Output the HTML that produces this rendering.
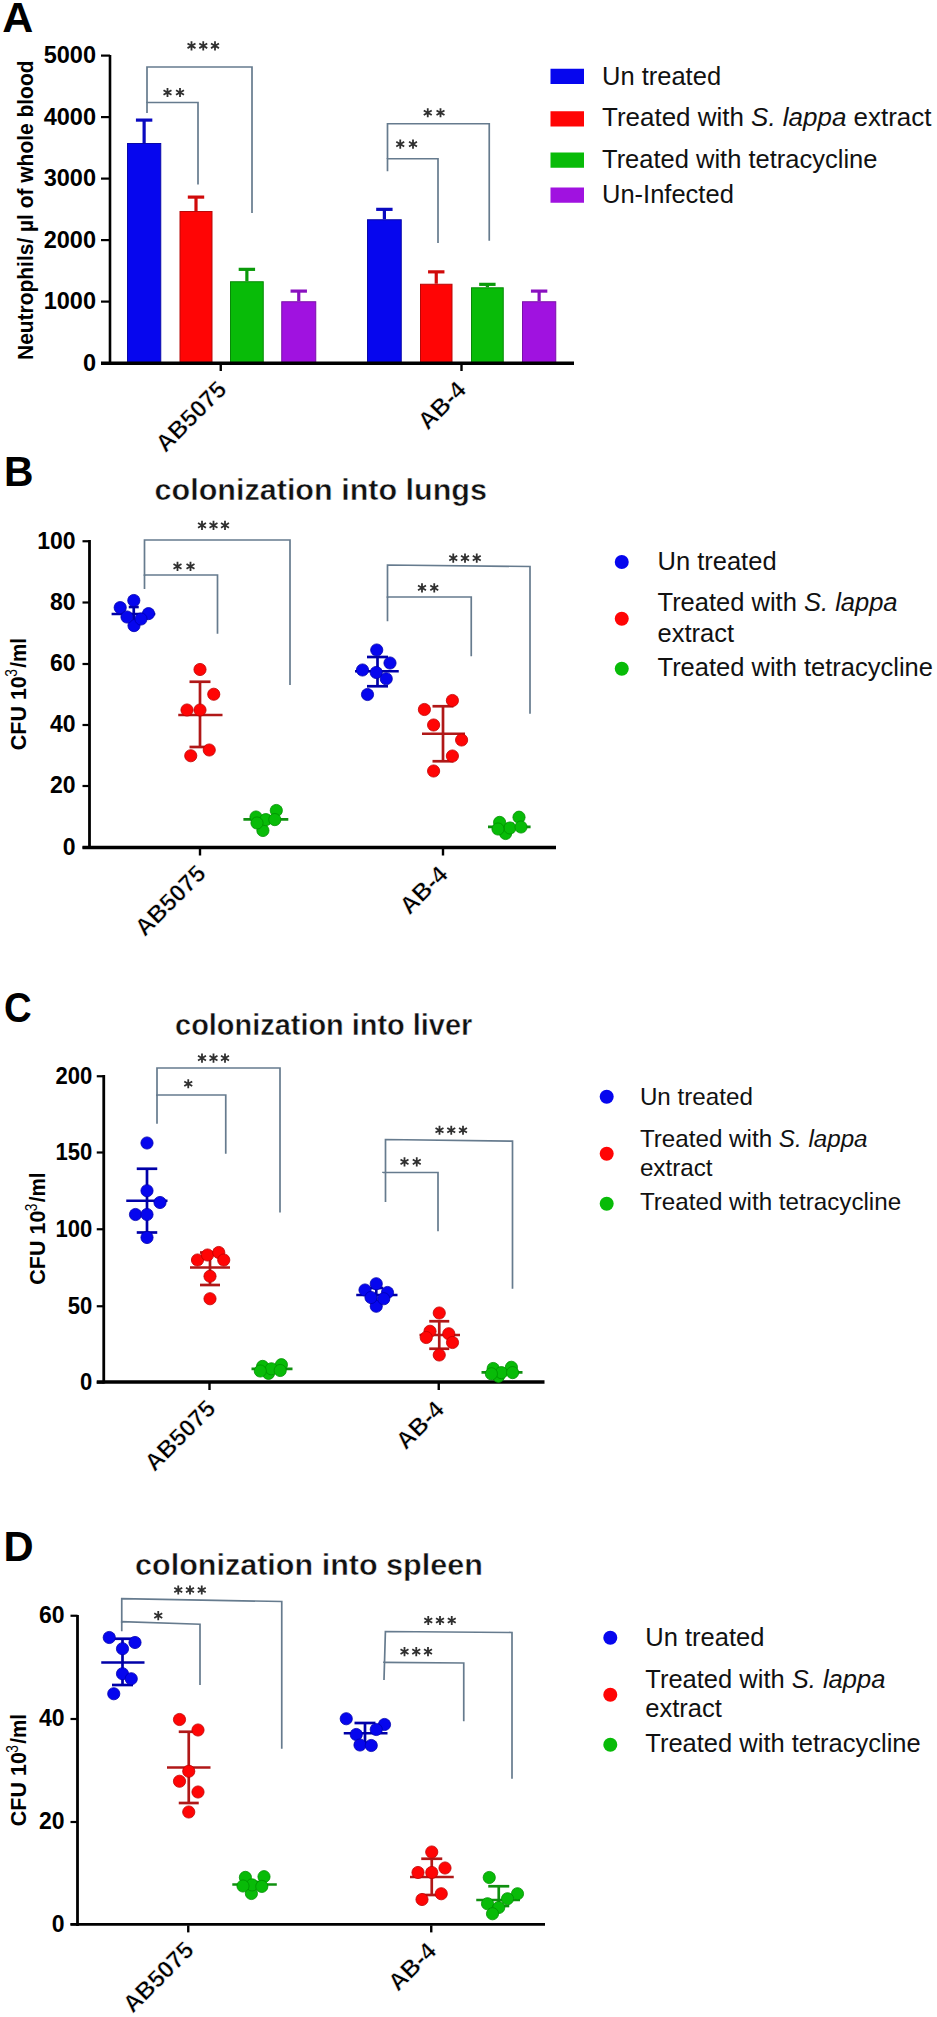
<!DOCTYPE html>
<html><head><meta charset="utf-8"><style>
html,body{margin:0;padding:0;background:#fff;}
svg{display:block;font-family:"Liberation Sans", sans-serif;}
</style></head><body>
<svg width="937" height="2017" viewBox="0 0 937 2017">
<rect width="937" height="2017" fill="#fff"/>
<text transform="translate(2.3,32.3) scale(1.0,1)" font-size="43" font-weight="bold">A</text>
<line x1="110" y1="55" x2="110" y2="364.5" stroke="#000" stroke-width="2.6" stroke-linecap="butt"/>
<line x1="101" y1="55.6" x2="110" y2="55.6" stroke="#000" stroke-width="2.2" stroke-linecap="butt"/>
<text x="96" y="63.0" font-size="23.5" font-weight="bold" text-anchor="end" fill="#000" >5000</text>
<line x1="101" y1="117.1" x2="110" y2="117.1" stroke="#000" stroke-width="2.2" stroke-linecap="butt"/>
<text x="96" y="124.5" font-size="23.5" font-weight="bold" text-anchor="end" fill="#000" >4000</text>
<line x1="101" y1="178.6" x2="110" y2="178.6" stroke="#000" stroke-width="2.2" stroke-linecap="butt"/>
<text x="96" y="186.0" font-size="23.5" font-weight="bold" text-anchor="end" fill="#000" >3000</text>
<line x1="101" y1="240.1" x2="110" y2="240.1" stroke="#000" stroke-width="2.2" stroke-linecap="butt"/>
<text x="96" y="247.5" font-size="23.5" font-weight="bold" text-anchor="end" fill="#000" >2000</text>
<line x1="101" y1="301.6" x2="110" y2="301.6" stroke="#000" stroke-width="2.2" stroke-linecap="butt"/>
<text x="96" y="309.0" font-size="23.5" font-weight="bold" text-anchor="end" fill="#000" >1000</text>
<line x1="101" y1="363.1" x2="110" y2="363.1" stroke="#000" stroke-width="2.2" stroke-linecap="butt"/>
<text x="96" y="370.5" font-size="23.5" font-weight="bold" text-anchor="end" fill="#000" >0</text>
<rect x="127.5" y="143.5" width="33.25" height="219.5" fill="#0606ee" stroke="#0808a8" stroke-width="1"/>
<line x1="144.125" y1="120.1" x2="144.125" y2="143" stroke="#0a0ac0" stroke-width="3.2" stroke-linecap="butt"/>
<line x1="135.925" y1="120.1" x2="152.325" y2="120.1" stroke="#0a0ac0" stroke-width="3.2" stroke-linecap="butt"/>
<rect x="180.0" y="211.5" width="32.0" height="151.5" fill="#ff0505" stroke="#b80808" stroke-width="1"/>
<line x1="196.0" y1="197.1" x2="196.0" y2="211" stroke="#d00a0a" stroke-width="3.2" stroke-linecap="butt"/>
<line x1="187.8" y1="197.1" x2="204.2" y2="197.1" stroke="#d00a0a" stroke-width="3.2" stroke-linecap="butt"/>
<rect x="230.5" y="281.75" width="32.75" height="81.25" fill="#08bb08" stroke="#088808" stroke-width="1"/>
<line x1="246.875" y1="269.35" x2="246.875" y2="281.25" stroke="#0a9a0a" stroke-width="3.2" stroke-linecap="butt"/>
<line x1="238.675" y1="269.35" x2="255.075" y2="269.35" stroke="#0a9a0a" stroke-width="3.2" stroke-linecap="butt"/>
<rect x="281.75" y="301.75" width="34.0" height="61.25" fill="#a012e0" stroke="#7a10a8" stroke-width="1"/>
<line x1="298.75" y1="291.1" x2="298.75" y2="301.25" stroke="#8a10c0" stroke-width="3.2" stroke-linecap="butt"/>
<line x1="290.55" y1="291.1" x2="306.95" y2="291.1" stroke="#8a10c0" stroke-width="3.2" stroke-linecap="butt"/>
<rect x="367.5" y="219.75" width="33.75" height="143.25" fill="#0606ee" stroke="#0808a8" stroke-width="1"/>
<line x1="384.375" y1="209.35" x2="384.375" y2="219.25" stroke="#0a0ac0" stroke-width="3.2" stroke-linecap="butt"/>
<line x1="376.175" y1="209.35" x2="392.575" y2="209.35" stroke="#0a0ac0" stroke-width="3.2" stroke-linecap="butt"/>
<rect x="420.5" y="284.25" width="31.5" height="78.75" fill="#ff0505" stroke="#b80808" stroke-width="1"/>
<line x1="436.25" y1="271.85" x2="436.25" y2="283.75" stroke="#d00a0a" stroke-width="3.2" stroke-linecap="butt"/>
<line x1="428.05" y1="271.85" x2="444.45" y2="271.85" stroke="#d00a0a" stroke-width="3.2" stroke-linecap="butt"/>
<rect x="471.5" y="287.8" width="31.75" height="75.19999999999999" fill="#08bb08" stroke="#088808" stroke-width="1"/>
<line x1="487.375" y1="284.35" x2="487.375" y2="287.3" stroke="#0a9a0a" stroke-width="3.2" stroke-linecap="butt"/>
<line x1="479.175" y1="284.35" x2="495.575" y2="284.35" stroke="#0a9a0a" stroke-width="3.2" stroke-linecap="butt"/>
<rect x="522.5" y="301.75" width="33.25" height="61.25" fill="#a012e0" stroke="#7a10a8" stroke-width="1"/>
<line x1="539.125" y1="291.1" x2="539.125" y2="301.25" stroke="#8a10c0" stroke-width="3.2" stroke-linecap="butt"/>
<line x1="530.925" y1="291.1" x2="547.325" y2="291.1" stroke="#8a10c0" stroke-width="3.2" stroke-linecap="butt"/>
<line x1="101" y1="363.2" x2="574" y2="363.2" stroke="#000" stroke-width="3.6" stroke-linecap="butt"/>
<line x1="220.75" y1="365" x2="220.75" y2="371" stroke="#000" stroke-width="2.4" stroke-linecap="butt"/>
<line x1="461.5" y1="365" x2="461.5" y2="371" stroke="#000" stroke-width="2.4" stroke-linecap="butt"/>
<path d="M147 113L147 67L252 67L252 213" fill="none" stroke="#667b8e" stroke-width="1.7"/>
<path d="M147 103L147 102.5L198 102.5L198 184.5" fill="none" stroke="#667b8e" stroke-width="1.7"/>
<path d="M191.50 41.25L191.50 50.45M187.52 43.55L195.48 48.15M195.48 43.55L187.52 48.15" stroke="#303030" stroke-width="1.8"/>
<path d="M203.25 41.25L203.25 50.45M199.27 43.55L207.23 48.15M207.23 43.55L199.27 48.15" stroke="#303030" stroke-width="1.8"/>
<path d="M215.00 41.25L215.00 50.45M211.02 43.55L218.98 48.15M218.98 43.55L211.02 48.15" stroke="#303030" stroke-width="1.8"/>
<path d="M167.50 87.90L167.50 97.10M163.52 90.20L171.48 94.80M171.48 90.20L163.52 94.80" stroke="#303030" stroke-width="1.8"/>
<path d="M180.00 87.90L180.00 97.10M176.02 90.20L183.98 94.80M183.98 90.20L176.02 94.80" stroke="#303030" stroke-width="1.8"/>
<path d="M387.5 171.25L387.5 123.75L489.25 123.75L489.25 240.75" fill="none" stroke="#667b8e" stroke-width="1.7"/>
<path d="M387.5 159L387.5 158.75L438 158.75L438 243" fill="none" stroke="#667b8e" stroke-width="1.7"/>
<path d="M427.75 108.15L427.75 117.35M423.77 110.45L431.73 115.05M431.73 110.45L423.77 115.05" stroke="#303030" stroke-width="1.8"/>
<path d="M440.50 108.15L440.50 117.35M436.52 110.45L444.48 115.05M444.48 110.45L436.52 115.05" stroke="#303030" stroke-width="1.8"/>
<path d="M400.25 139.53L400.25 148.72M396.27 141.82L404.23 146.43M404.23 141.82L396.27 146.43" stroke="#303030" stroke-width="1.8"/>
<path d="M413.00 139.53L413.00 148.72M409.02 141.82L416.98 146.43M416.98 141.82L409.02 146.43" stroke="#303030" stroke-width="1.8"/>
<text transform="translate(33,360) rotate(-90)" x="0" y="0" font-size="22.5" font-weight="bold" textLength="299.5" lengthAdjust="spacingAndGlyphs">Neutrophils/ µl of whole blood</text>
<text transform="translate(227.9,390.9) rotate(-45)" x="0" y="0" font-size="24.1" font-weight="bold" text-anchor="end" stroke="#fff" stroke-width="0.5" paint-order="fill">AB5075</text>
<text transform="translate(467.6,391.3) rotate(-45)" x="0" y="0" font-size="24.1" font-weight="bold" text-anchor="end" stroke="#fff" stroke-width="0.5" paint-order="fill">AB-4</text>
<rect x="550.5" y="68.75" width="33.5" height="15.25" fill="#0606ee"/>
<rect x="550.5" y="111.25" width="33.5" height="15.25" fill="#ff0505"/>
<rect x="550.5" y="152.5" width="33.5" height="15.25" fill="#08bb08"/>
<rect x="550.5" y="187.5" width="33.5" height="15.25" fill="#a012e0"/>
<text x="602" y="85" font-size="25.5" fill="#111">Un treated</text>
<text x="602" y="126" font-size="25.5" fill="#111" textLength="329.5" lengthAdjust="spacingAndGlyphs">Treated with <tspan font-style="italic">S. lappa</tspan> extract</text>
<text x="602" y="167.5" font-size="25.5" fill="#111">Treated with tetracycline</text>
<text x="602" y="202.5" font-size="25.5" fill="#111">Un-Infected</text>
<text transform="translate(4.1,486.3) scale(0.95,1)" font-size="43" font-weight="bold">B</text>
<text x="154.6" y="499.5" font-size="29.3" font-weight="bold" fill="#111" stroke="#fff" stroke-width="0.45" paint-order="fill" textLength="332.4" lengthAdjust="spacingAndGlyphs">colonization into lungs</text>
<line x1="89.5" y1="540" x2="89.5" y2="849.0" stroke="#000" stroke-width="2.8" stroke-linecap="butt"/>
<line x1="82.5" y1="541.25" x2="89.5" y2="541.25" stroke="#000" stroke-width="2.2" stroke-linecap="butt"/>
<text transform="translate(75.5,548.65) scale(1.0,1)" font-size="23" font-weight="bold" text-anchor="end">100</text>
<line x1="82.5" y1="602.5" x2="89.5" y2="602.5" stroke="#000" stroke-width="2.2" stroke-linecap="butt"/>
<text transform="translate(75.5,609.9) scale(1.0,1)" font-size="23" font-weight="bold" text-anchor="end">80</text>
<line x1="82.5" y1="664" x2="89.5" y2="664" stroke="#000" stroke-width="2.2" stroke-linecap="butt"/>
<text transform="translate(75.5,671.4) scale(1.0,1)" font-size="23" font-weight="bold" text-anchor="end">60</text>
<line x1="82.5" y1="725" x2="89.5" y2="725" stroke="#000" stroke-width="2.2" stroke-linecap="butt"/>
<text transform="translate(75.5,732.4) scale(1.0,1)" font-size="23" font-weight="bold" text-anchor="end">40</text>
<line x1="82.5" y1="786" x2="89.5" y2="786" stroke="#000" stroke-width="2.2" stroke-linecap="butt"/>
<text transform="translate(75.5,793.4) scale(1.0,1)" font-size="23" font-weight="bold" text-anchor="end">20</text>
<line x1="82.5" y1="847.5" x2="89.5" y2="847.5" stroke="#000" stroke-width="2.2" stroke-linecap="butt"/>
<text transform="translate(75.5,854.9) scale(1.0,1)" font-size="23" font-weight="bold" text-anchor="end">0</text>
<line x1="82.5" y1="847.5" x2="556" y2="847.5" stroke="#000" stroke-width="3.4" stroke-linecap="butt"/>
<line x1="200" y1="848.5" x2="200" y2="855.5" stroke="#000" stroke-width="2.4" stroke-linecap="butt"/>
<line x1="443" y1="848.5" x2="443" y2="855.5" stroke="#000" stroke-width="2.4" stroke-linecap="butt"/>
<path d="M144.5 589L144.5 540L290 540L290 685" fill="none" stroke="#667b8e" stroke-width="1.7"/>
<path d="M144.5 576L144.5 575L217.5 575L217.5 633.75" fill="none" stroke="#667b8e" stroke-width="1.7"/>
<path d="M387.5 621.25L387.5 565L530 566.5L530 713.75" fill="none" stroke="#667b8e" stroke-width="1.7"/>
<path d="M387.5 598L387.5 597L471.25 597L471.25 656.25" fill="none" stroke="#667b8e" stroke-width="1.7"/>
<path d="M202.00 520.77L202.00 529.98M198.02 523.08L205.98 527.67M205.98 523.08L198.02 527.67" stroke="#303030" stroke-width="1.8"/>
<path d="M213.50 520.77L213.50 529.98M209.52 523.08L217.48 527.67M217.48 523.08L209.52 527.67" stroke="#303030" stroke-width="1.8"/>
<path d="M225.00 520.77L225.00 529.98M221.02 523.08L228.98 527.67M228.98 523.08L221.02 527.67" stroke="#303030" stroke-width="1.8"/>
<path d="M177.50 561.77L177.50 570.98M173.52 564.08L181.48 568.67M181.48 564.08L173.52 568.67" stroke="#303030" stroke-width="1.8"/>
<path d="M190.50 561.77L190.50 570.98M186.52 564.08L194.48 568.67M194.48 564.08L186.52 568.67" stroke="#303030" stroke-width="1.8"/>
<path d="M453.25 553.52L453.25 562.73M449.27 555.83L457.23 560.42M457.23 555.83L449.27 560.42" stroke="#303030" stroke-width="1.8"/>
<path d="M465.00 553.52L465.00 562.73M461.02 555.83L468.98 560.42M468.98 555.83L461.02 560.42" stroke="#303030" stroke-width="1.8"/>
<path d="M476.75 553.52L476.75 562.73M472.77 555.83L480.73 560.42M480.73 555.83L472.77 560.42" stroke="#303030" stroke-width="1.8"/>
<path d="M422.00 583.27L422.00 592.48M418.02 585.58L425.98 590.17M425.98 585.58L418.02 590.17" stroke="#303030" stroke-width="1.8"/>
<path d="M434.25 583.27L434.25 592.48M430.27 585.58L438.23 590.17M438.23 585.58L430.27 590.17" stroke="#303030" stroke-width="1.8"/>
<g transform="translate(25.6,749.4) rotate(-90)"><text x="-0.88" y="0" font-size="21.5" font-weight="bold">CFU 10</text><text x="72.6" y="-8.5" font-size="16.5" textLength="7.6" lengthAdjust="spacingAndGlyphs">3</text><text x="81.6" y="0" font-size="21.5" font-weight="bold" textLength="29.8" lengthAdjust="spacingAndGlyphs">/ml</text></g>
<text transform="translate(207.2,875.1) rotate(-45)" x="0" y="0" font-size="24.1" font-weight="bold" text-anchor="end" stroke="#fff" stroke-width="0.5" paint-order="fill">AB5075</text>
<text transform="translate(449.2,875.9) rotate(-45)" x="0" y="0" font-size="24.1" font-weight="bold" text-anchor="end" stroke="#fff" stroke-width="0.5" paint-order="fill">AB-4</text>
<line x1="111.6" y1="614" x2="155.3" y2="614" stroke="#0000a8" stroke-width="2.7" stroke-linecap="butt"/>
<line x1="133.75" y1="607" x2="133.75" y2="622" stroke="#0000a8" stroke-width="2.7" stroke-linecap="butt"/>
<line x1="128.75" y1="607" x2="138.75" y2="607" stroke="#0000a8" stroke-width="2.7" stroke-linecap="butt"/>
<line x1="128.75" y1="622" x2="138.75" y2="622" stroke="#0000a8" stroke-width="2.7" stroke-linecap="butt"/>
<circle cx="133.8" cy="600.5" r="6.1" fill="#0606ee" stroke="#0000b0" stroke-width="0.8"/>
<circle cx="120.2" cy="607.6" r="6.1" fill="#0606ee" stroke="#0000b0" stroke-width="0.8"/>
<circle cx="148.5" cy="613.6" r="6.1" fill="#0606ee" stroke="#0000b0" stroke-width="0.8"/>
<circle cx="134" cy="625.6" r="6.1" fill="#0606ee" stroke="#0000b0" stroke-width="0.8"/>
<circle cx="127" cy="617" r="6.1" fill="#0606ee" stroke="#0000b0" stroke-width="0.8"/>
<circle cx="141" cy="619" r="6.1" fill="#0606ee" stroke="#0000b0" stroke-width="0.8"/>
<line x1="178.25" y1="715" x2="222.5" y2="715" stroke="#b01818" stroke-width="2.7" stroke-linecap="butt"/>
<line x1="200" y1="681.75" x2="200" y2="747" stroke="#b01818" stroke-width="2.7" stroke-linecap="butt"/>
<line x1="189.5" y1="681.75" x2="210.5" y2="681.75" stroke="#b01818" stroke-width="2.7" stroke-linecap="butt"/>
<line x1="189.5" y1="747" x2="210.5" y2="747" stroke="#b01818" stroke-width="2.7" stroke-linecap="butt"/>
<circle cx="200" cy="669.5" r="6.1" fill="#ff0505" stroke="#c00000" stroke-width="0.8"/>
<circle cx="213.75" cy="694.25" r="6.1" fill="#ff0505" stroke="#c00000" stroke-width="0.8"/>
<circle cx="187" cy="710" r="6.1" fill="#ff0505" stroke="#c00000" stroke-width="0.8"/>
<circle cx="200" cy="710" r="6.1" fill="#ff0505" stroke="#c00000" stroke-width="0.8"/>
<circle cx="209.25" cy="750" r="6.1" fill="#ff0505" stroke="#c00000" stroke-width="0.8"/>
<circle cx="190.75" cy="755.75" r="6.1" fill="#ff0505" stroke="#c00000" stroke-width="0.8"/>
<line x1="243.4" y1="819.4" x2="288.3" y2="819.4" stroke="#109010" stroke-width="2.7" stroke-linecap="butt"/>
<line x1="266.25" y1="816" x2="266.25" y2="823" stroke="#109010" stroke-width="2.7" stroke-linecap="butt"/>
<line x1="262.25" y1="816" x2="270.25" y2="816" stroke="#109010" stroke-width="2.7" stroke-linecap="butt"/>
<line x1="262.25" y1="823" x2="270.25" y2="823" stroke="#109010" stroke-width="2.7" stroke-linecap="butt"/>
<circle cx="256" cy="817" r="6.1" fill="#08bb08" stroke="#009000" stroke-width="0.8"/>
<circle cx="276.3" cy="810.5" r="6.1" fill="#08bb08" stroke="#009000" stroke-width="0.8"/>
<circle cx="262.9" cy="830.5" r="6.1" fill="#08bb08" stroke="#009000" stroke-width="0.8"/>
<circle cx="265.8" cy="819.6" r="6.1" fill="#08bb08" stroke="#009000" stroke-width="0.8"/>
<circle cx="274.8" cy="819.6" r="6.1" fill="#08bb08" stroke="#009000" stroke-width="0.8"/>
<circle cx="257" cy="823" r="6.1" fill="#08bb08" stroke="#009000" stroke-width="0.8"/>
<line x1="355" y1="671.25" x2="398.75" y2="671.25" stroke="#0000a8" stroke-width="2.7" stroke-linecap="butt"/>
<line x1="377.5" y1="657" x2="377.5" y2="686.25" stroke="#0000a8" stroke-width="2.7" stroke-linecap="butt"/>
<line x1="367.0" y1="657" x2="388.0" y2="657" stroke="#0000a8" stroke-width="2.7" stroke-linecap="butt"/>
<line x1="367.0" y1="686.25" x2="388.0" y2="686.25" stroke="#0000a8" stroke-width="2.7" stroke-linecap="butt"/>
<circle cx="376.75" cy="650" r="6.1" fill="#0606ee" stroke="#0000b0" stroke-width="0.8"/>
<circle cx="390" cy="663" r="6.1" fill="#0606ee" stroke="#0000b0" stroke-width="0.8"/>
<circle cx="362.5" cy="670" r="6.1" fill="#0606ee" stroke="#0000b0" stroke-width="0.8"/>
<circle cx="376.25" cy="672.5" r="6.1" fill="#0606ee" stroke="#0000b0" stroke-width="0.8"/>
<circle cx="386.25" cy="678.75" r="6.1" fill="#0606ee" stroke="#0000b0" stroke-width="0.8"/>
<circle cx="367.5" cy="694.5" r="6.1" fill="#0606ee" stroke="#0000b0" stroke-width="0.8"/>
<line x1="422" y1="733.75" x2="465" y2="733.75" stroke="#b01818" stroke-width="2.7" stroke-linecap="butt"/>
<line x1="443" y1="706.25" x2="443" y2="761.25" stroke="#b01818" stroke-width="2.7" stroke-linecap="butt"/>
<line x1="432.5" y1="706.25" x2="453.5" y2="706.25" stroke="#b01818" stroke-width="2.7" stroke-linecap="butt"/>
<line x1="432.5" y1="761.25" x2="453.5" y2="761.25" stroke="#b01818" stroke-width="2.7" stroke-linecap="butt"/>
<circle cx="452.4" cy="700.5" r="6.1" fill="#ff0505" stroke="#c00000" stroke-width="0.8"/>
<circle cx="424.4" cy="709.5" r="6.1" fill="#ff0505" stroke="#c00000" stroke-width="0.8"/>
<circle cx="433.6" cy="725" r="6.1" fill="#ff0505" stroke="#c00000" stroke-width="0.8"/>
<circle cx="461.6" cy="740" r="6.1" fill="#ff0505" stroke="#c00000" stroke-width="0.8"/>
<circle cx="452.4" cy="756" r="6.1" fill="#ff0505" stroke="#c00000" stroke-width="0.8"/>
<circle cx="433.6" cy="771" r="6.1" fill="#ff0505" stroke="#c00000" stroke-width="0.8"/>
<line x1="488" y1="826.9" x2="530.6" y2="826.9" stroke="#109010" stroke-width="2.7" stroke-linecap="butt"/>
<line x1="510" y1="824" x2="510" y2="830" stroke="#109010" stroke-width="2.7" stroke-linecap="butt"/>
<line x1="506.0" y1="824" x2="514.0" y2="824" stroke="#109010" stroke-width="2.7" stroke-linecap="butt"/>
<line x1="506.0" y1="830" x2="514.0" y2="830" stroke="#109010" stroke-width="2.7" stroke-linecap="butt"/>
<circle cx="499.6" cy="822.4" r="6.1" fill="#08bb08" stroke="#009000" stroke-width="0.8"/>
<circle cx="519" cy="817.2" r="6.1" fill="#08bb08" stroke="#009000" stroke-width="0.8"/>
<circle cx="505.6" cy="833.5" r="6.1" fill="#08bb08" stroke="#009000" stroke-width="0.8"/>
<circle cx="510" cy="828" r="6.1" fill="#08bb08" stroke="#009000" stroke-width="0.8"/>
<circle cx="521" cy="827" r="6.1" fill="#08bb08" stroke="#009000" stroke-width="0.8"/>
<circle cx="498" cy="829" r="6.1" fill="#08bb08" stroke="#009000" stroke-width="0.8"/>
<circle cx="621.75" cy="562" r="7" fill="#0606ee"/>
<circle cx="621.75" cy="618.75" r="7" fill="#ff0505"/>
<circle cx="621.75" cy="668.75" r="7" fill="#08bb08"/>
<text x="657.5" y="570" font-size="25.5" fill="#111">Un treated</text>
<text x="657.5" y="610.75" font-size="25.5" fill="#111">Treated with <tspan font-style="italic">S. lappa</tspan></text>
<text x="657.5" y="642" font-size="25.5" fill="#111">extract</text>
<text x="657.5" y="676.25" font-size="25.5" fill="#111">Treated with tetracycline</text>
<text transform="translate(4.0,1022.4) scale(0.89,1)" font-size="43" font-weight="bold">C</text>
<text x="175.1" y="1034.5" font-size="29.5" font-weight="bold" fill="#111" stroke="#fff" stroke-width="0.45" paint-order="fill" textLength="297.2" lengthAdjust="spacingAndGlyphs">colonization into liver</text>
<line x1="103.75" y1="1075" x2="103.75" y2="1383.5" stroke="#000" stroke-width="2.8" stroke-linecap="butt"/>
<line x1="96.75" y1="1076.25" x2="103.75" y2="1076.25" stroke="#000" stroke-width="2.2" stroke-linecap="butt"/>
<text transform="translate(92.2,1083.85) scale(0.92,1)" font-size="24" font-weight="bold" text-anchor="end">200</text>
<line x1="96.75" y1="1152.5" x2="103.75" y2="1152.5" stroke="#000" stroke-width="2.2" stroke-linecap="butt"/>
<text transform="translate(92.2,1160.1) scale(0.92,1)" font-size="24" font-weight="bold" text-anchor="end">150</text>
<line x1="96.75" y1="1229.25" x2="103.75" y2="1229.25" stroke="#000" stroke-width="2.2" stroke-linecap="butt"/>
<text transform="translate(92.2,1236.85) scale(0.92,1)" font-size="24" font-weight="bold" text-anchor="end">100</text>
<line x1="96.75" y1="1306.25" x2="103.75" y2="1306.25" stroke="#000" stroke-width="2.2" stroke-linecap="butt"/>
<text transform="translate(92.2,1313.85) scale(0.92,1)" font-size="24" font-weight="bold" text-anchor="end">50</text>
<line x1="96.75" y1="1382.5" x2="103.75" y2="1382.5" stroke="#000" stroke-width="2.2" stroke-linecap="butt"/>
<text transform="translate(92.2,1390.1) scale(0.92,1)" font-size="24" font-weight="bold" text-anchor="end">0</text>
<line x1="96.75" y1="1382" x2="544.5" y2="1382" stroke="#000" stroke-width="3.4" stroke-linecap="butt"/>
<line x1="209.5" y1="1383" x2="209.5" y2="1390" stroke="#000" stroke-width="2.4" stroke-linecap="butt"/>
<line x1="438.75" y1="1383" x2="438.75" y2="1390" stroke="#000" stroke-width="2.4" stroke-linecap="butt"/>
<path d="M157 1123.75L157 1068L280 1068L280 1212.5" fill="none" stroke="#667b8e" stroke-width="1.7"/>
<path d="M157 1096L157 1095L225.75 1095L225.75 1153.75" fill="none" stroke="#667b8e" stroke-width="1.7"/>
<path d="M385.5 1202L385.5 1139.5L512.5 1141.2L512.5 1288.75" fill="none" stroke="#667b8e" stroke-width="1.7"/>
<path d="M383 1173L383 1172.5L438 1172.5L438 1231.25" fill="none" stroke="#667b8e" stroke-width="1.7"/>
<path d="M202.00 1053.53L202.00 1062.72M198.02 1055.83L205.98 1060.42M205.98 1055.83L198.02 1060.42" stroke="#303030" stroke-width="1.8"/>
<path d="M213.50 1053.53L213.50 1062.72M209.52 1055.83L217.48 1060.42M217.48 1055.83L209.52 1060.42" stroke="#303030" stroke-width="1.8"/>
<path d="M225.00 1053.53L225.00 1062.72M221.02 1055.83L228.98 1060.42M228.98 1055.83L221.02 1060.42" stroke="#303030" stroke-width="1.8"/>
<path d="M188.25 1079.15L188.25 1088.35M184.27 1081.45L192.23 1086.05M192.23 1081.45L184.27 1086.05" stroke="#303030" stroke-width="1.8"/>
<path d="M439.50 1125.65L439.50 1134.85M435.52 1127.95L443.48 1132.55M443.48 1127.95L435.52 1132.55" stroke="#303030" stroke-width="1.8"/>
<path d="M451.25 1125.65L451.25 1134.85M447.27 1127.95L455.23 1132.55M455.23 1127.95L447.27 1132.55" stroke="#303030" stroke-width="1.8"/>
<path d="M463.00 1125.65L463.00 1134.85M459.02 1127.95L466.98 1132.55M466.98 1127.95L459.02 1132.55" stroke="#303030" stroke-width="1.8"/>
<path d="M404.50 1157.28L404.50 1166.47M400.52 1159.58L408.48 1164.17M408.48 1159.58L400.52 1164.17" stroke="#303030" stroke-width="1.8"/>
<path d="M416.75 1157.28L416.75 1166.47M412.77 1159.58L420.73 1164.17M420.73 1159.58L412.77 1164.17" stroke="#303030" stroke-width="1.8"/>
<g transform="translate(45.2,1283.8) rotate(-90)"><text x="-0.88" y="0" font-size="21.5" font-weight="bold">CFU 10</text><text x="72.6" y="-8.5" font-size="16.5" textLength="7.6" lengthAdjust="spacingAndGlyphs">3</text><text x="81.6" y="0" font-size="21.5" font-weight="bold" textLength="29.8" lengthAdjust="spacingAndGlyphs">/ml</text></g>
<text transform="translate(217,1410) rotate(-45)" x="0" y="0" font-size="24.1" font-weight="bold" text-anchor="end" stroke="#fff" stroke-width="0.5" paint-order="fill">AB5075</text>
<text transform="translate(445.6,1410.9) rotate(-45)" x="0" y="0" font-size="24.1" font-weight="bold" text-anchor="end" stroke="#fff" stroke-width="0.5" paint-order="fill">AB-4</text>
<line x1="126.25" y1="1200.75" x2="167.5" y2="1200.75" stroke="#0000a8" stroke-width="2.7" stroke-linecap="butt"/>
<line x1="147" y1="1168.75" x2="147" y2="1232.5" stroke="#0000a8" stroke-width="2.7" stroke-linecap="butt"/>
<line x1="136.75" y1="1168.75" x2="157.25" y2="1168.75" stroke="#0000a8" stroke-width="2.7" stroke-linecap="butt"/>
<line x1="136.75" y1="1232.5" x2="157.25" y2="1232.5" stroke="#0000a8" stroke-width="2.7" stroke-linecap="butt"/>
<circle cx="147" cy="1143" r="6.1" fill="#0606ee" stroke="#0000b0" stroke-width="0.8"/>
<circle cx="147" cy="1190.75" r="6.1" fill="#0606ee" stroke="#0000b0" stroke-width="0.8"/>
<circle cx="160" cy="1202.5" r="6.1" fill="#0606ee" stroke="#0000b0" stroke-width="0.8"/>
<circle cx="135.5" cy="1214.5" r="6.1" fill="#0606ee" stroke="#0000b0" stroke-width="0.8"/>
<circle cx="147" cy="1214.5" r="6.1" fill="#0606ee" stroke="#0000b0" stroke-width="0.8"/>
<circle cx="147" cy="1237.5" r="6.1" fill="#0606ee" stroke="#0000b0" stroke-width="0.8"/>
<line x1="190" y1="1267.5" x2="230" y2="1267.5" stroke="#b01818" stroke-width="2.7" stroke-linecap="butt"/>
<line x1="210" y1="1252.5" x2="210" y2="1285" stroke="#b01818" stroke-width="2.7" stroke-linecap="butt"/>
<line x1="200.0" y1="1252.5" x2="220.0" y2="1252.5" stroke="#b01818" stroke-width="2.7" stroke-linecap="butt"/>
<line x1="200.0" y1="1285" x2="220.0" y2="1285" stroke="#b01818" stroke-width="2.7" stroke-linecap="butt"/>
<circle cx="197.5" cy="1260" r="6.1" fill="#ff0505" stroke="#c00000" stroke-width="0.8"/>
<circle cx="207.5" cy="1255" r="6.1" fill="#ff0505" stroke="#c00000" stroke-width="0.8"/>
<circle cx="218.75" cy="1252.5" r="6.1" fill="#ff0505" stroke="#c00000" stroke-width="0.8"/>
<circle cx="223.75" cy="1260" r="6.1" fill="#ff0505" stroke="#c00000" stroke-width="0.8"/>
<circle cx="210" cy="1276.25" r="6.1" fill="#ff0505" stroke="#c00000" stroke-width="0.8"/>
<circle cx="210" cy="1298.75" r="6.1" fill="#ff0505" stroke="#c00000" stroke-width="0.8"/>
<line x1="251.5" y1="1368.8" x2="292.5" y2="1368.8" stroke="#109010" stroke-width="2.7" stroke-linecap="butt"/>
<line x1="271.25" y1="1366" x2="271.25" y2="1372" stroke="#109010" stroke-width="2.7" stroke-linecap="butt"/>
<line x1="267.25" y1="1366" x2="275.25" y2="1366" stroke="#109010" stroke-width="2.7" stroke-linecap="butt"/>
<line x1="267.25" y1="1372" x2="275.25" y2="1372" stroke="#109010" stroke-width="2.7" stroke-linecap="butt"/>
<circle cx="262.6" cy="1366.4" r="6.1" fill="#08bb08" stroke="#009000" stroke-width="0.8"/>
<circle cx="281.4" cy="1364.7" r="6.1" fill="#08bb08" stroke="#009000" stroke-width="0.8"/>
<circle cx="268.5" cy="1373.4" r="6.1" fill="#08bb08" stroke="#009000" stroke-width="0.8"/>
<circle cx="271.4" cy="1368.8" r="6.1" fill="#08bb08" stroke="#009000" stroke-width="0.8"/>
<circle cx="280.2" cy="1370.5" r="6.1" fill="#08bb08" stroke="#009000" stroke-width="0.8"/>
<circle cx="260.3" cy="1371" r="6.1" fill="#08bb08" stroke="#009000" stroke-width="0.8"/>
<line x1="356.25" y1="1295" x2="397.5" y2="1295" stroke="#0000a8" stroke-width="2.7" stroke-linecap="butt"/>
<line x1="376.25" y1="1288" x2="376.25" y2="1302" stroke="#0000a8" stroke-width="2.7" stroke-linecap="butt"/>
<line x1="369.25" y1="1288" x2="383.25" y2="1288" stroke="#0000a8" stroke-width="2.7" stroke-linecap="butt"/>
<line x1="369.25" y1="1302" x2="383.25" y2="1302" stroke="#0000a8" stroke-width="2.7" stroke-linecap="butt"/>
<circle cx="376.25" cy="1283.75" r="6.1" fill="#0606ee" stroke="#0000b0" stroke-width="0.8"/>
<circle cx="365" cy="1290" r="6.1" fill="#0606ee" stroke="#0000b0" stroke-width="0.8"/>
<circle cx="387.5" cy="1292.5" r="6.1" fill="#0606ee" stroke="#0000b0" stroke-width="0.8"/>
<circle cx="376.25" cy="1306.25" r="6.1" fill="#0606ee" stroke="#0000b0" stroke-width="0.8"/>
<circle cx="371" cy="1297.5" r="6.1" fill="#0606ee" stroke="#0000b0" stroke-width="0.8"/>
<circle cx="383.75" cy="1298.75" r="6.1" fill="#0606ee" stroke="#0000b0" stroke-width="0.8"/>
<line x1="419.5" y1="1335" x2="460" y2="1335" stroke="#b01818" stroke-width="2.7" stroke-linecap="butt"/>
<line x1="439.25" y1="1321.25" x2="439.25" y2="1348.75" stroke="#b01818" stroke-width="2.7" stroke-linecap="butt"/>
<line x1="429.25" y1="1321.25" x2="449.25" y2="1321.25" stroke="#b01818" stroke-width="2.7" stroke-linecap="butt"/>
<line x1="429.25" y1="1348.75" x2="449.25" y2="1348.75" stroke="#b01818" stroke-width="2.7" stroke-linecap="butt"/>
<circle cx="439.25" cy="1313" r="6.1" fill="#ff0505" stroke="#c00000" stroke-width="0.8"/>
<circle cx="430" cy="1331.25" r="6.1" fill="#ff0505" stroke="#c00000" stroke-width="0.8"/>
<circle cx="448.75" cy="1333.75" r="6.1" fill="#ff0505" stroke="#c00000" stroke-width="0.8"/>
<circle cx="426.25" cy="1337.5" r="6.1" fill="#ff0505" stroke="#c00000" stroke-width="0.8"/>
<circle cx="452.5" cy="1342.5" r="6.1" fill="#ff0505" stroke="#c00000" stroke-width="0.8"/>
<circle cx="439.25" cy="1355" r="6.1" fill="#ff0505" stroke="#c00000" stroke-width="0.8"/>
<line x1="481.5" y1="1372.3" x2="522.5" y2="1372.3" stroke="#109010" stroke-width="2.7" stroke-linecap="butt"/>
<line x1="502.5" y1="1370" x2="502.5" y2="1375" stroke="#109010" stroke-width="2.7" stroke-linecap="butt"/>
<line x1="498.5" y1="1370" x2="506.5" y2="1370" stroke="#109010" stroke-width="2.7" stroke-linecap="butt"/>
<line x1="498.5" y1="1375" x2="506.5" y2="1375" stroke="#109010" stroke-width="2.7" stroke-linecap="butt"/>
<circle cx="493.2" cy="1368.5" r="6.1" fill="#08bb08" stroke="#009000" stroke-width="0.8"/>
<circle cx="511.4" cy="1367.3" r="6.1" fill="#08bb08" stroke="#009000" stroke-width="0.8"/>
<circle cx="498.5" cy="1376.3" r="6.1" fill="#08bb08" stroke="#009000" stroke-width="0.8"/>
<circle cx="501.4" cy="1372.6" r="6.1" fill="#08bb08" stroke="#009000" stroke-width="0.8"/>
<circle cx="512.6" cy="1372.6" r="6.1" fill="#08bb08" stroke="#009000" stroke-width="0.8"/>
<circle cx="491.4" cy="1373.8" r="6.1" fill="#08bb08" stroke="#009000" stroke-width="0.8"/>
<circle cx="606.7" cy="1096.7" r="7" fill="#0606ee"/>
<circle cx="606.7" cy="1153.8" r="7" fill="#ff0505"/>
<circle cx="606.7" cy="1203.7" r="7" fill="#08bb08"/>
<text x="639.9" y="1104.9" font-size="24.2" fill="#111">Un treated</text>
<text x="639.9" y="1146.6" font-size="24.2" fill="#111">Treated with <tspan font-style="italic">S. lappa</tspan></text>
<text x="639.9" y="1176.2" font-size="24.2" fill="#111">extract</text>
<text x="639.9" y="1210" font-size="24.2" fill="#111">Treated with tetracycline</text>
<text transform="translate(3.6,1561.3) scale(0.97,1)" font-size="43" font-weight="bold">D</text>
<text x="135.0" y="1575.3" font-size="28.6" font-weight="bold" fill="#111" stroke="#fff" stroke-width="0.45" paint-order="fill" textLength="347.9" lengthAdjust="spacingAndGlyphs">colonization into spleen</text>
<line x1="77.5" y1="1615" x2="77.5" y2="1925.9" stroke="#000" stroke-width="2.8" stroke-linecap="butt"/>
<line x1="70.5" y1="1615.75" x2="77.5" y2="1615.75" stroke="#000" stroke-width="2.2" stroke-linecap="butt"/>
<text transform="translate(64.5,1623.15) scale(1.0,1)" font-size="23" font-weight="bold" text-anchor="end">60</text>
<line x1="70.5" y1="1719" x2="77.5" y2="1719" stroke="#000" stroke-width="2.2" stroke-linecap="butt"/>
<text transform="translate(64.5,1726.4) scale(1.0,1)" font-size="23" font-weight="bold" text-anchor="end">40</text>
<line x1="70.5" y1="1822" x2="77.5" y2="1822" stroke="#000" stroke-width="2.2" stroke-linecap="butt"/>
<text transform="translate(64.5,1829.4) scale(1.0,1)" font-size="23" font-weight="bold" text-anchor="end">20</text>
<line x1="70.5" y1="1924.3" x2="77.5" y2="1924.3" stroke="#000" stroke-width="2.2" stroke-linecap="butt"/>
<text transform="translate(64.5,1931.7) scale(1.0,1)" font-size="23" font-weight="bold" text-anchor="end">0</text>
<line x1="70.5" y1="1924.4" x2="545" y2="1924.4" stroke="#000" stroke-width="2.8" stroke-linecap="butt"/>
<line x1="188.25" y1="1925.4" x2="188.25" y2="1932.4" stroke="#000" stroke-width="2.4" stroke-linecap="butt"/>
<line x1="431.25" y1="1925.4" x2="431.25" y2="1932.4" stroke="#000" stroke-width="2.4" stroke-linecap="butt"/>
<path d="M121.75 1631.25L121.75 1598.7L281.75 1601.5L281.75 1748.75" fill="none" stroke="#667b8e" stroke-width="1.7"/>
<path d="M121.75 1623L121.75 1621.7L200 1624.2L200 1685" fill="none" stroke="#667b8e" stroke-width="1.7"/>
<path d="M384 1680L385.4 1631.5L512 1632.5L512 1778.75" fill="none" stroke="#667b8e" stroke-width="1.7"/>
<path d="M384 1663L384 1662.4L463.75 1663L463.75 1721.25" fill="none" stroke="#667b8e" stroke-width="1.7"/>
<path d="M178.25 1585.40L178.25 1594.60M174.27 1587.70L182.23 1592.30M182.23 1587.70L174.27 1592.30" stroke="#303030" stroke-width="1.8"/>
<path d="M190.00 1585.40L190.00 1594.60M186.02 1587.70L193.98 1592.30M193.98 1587.70L186.02 1592.30" stroke="#303030" stroke-width="1.8"/>
<path d="M201.75 1585.40L201.75 1594.60M197.77 1587.70L205.73 1592.30M205.73 1587.70L197.77 1592.30" stroke="#303030" stroke-width="1.8"/>
<path d="M158.25 1611.03L158.25 1620.22M154.27 1613.33L162.23 1617.92M162.23 1613.33L154.27 1617.92" stroke="#303030" stroke-width="1.8"/>
<path d="M428.25 1615.90L428.25 1625.10M424.27 1618.20L432.23 1622.80M432.23 1618.20L424.27 1622.80" stroke="#303030" stroke-width="1.8"/>
<path d="M440.00 1615.90L440.00 1625.10M436.02 1618.20L443.98 1622.80M443.98 1618.20L436.02 1622.80" stroke="#303030" stroke-width="1.8"/>
<path d="M451.75 1615.90L451.75 1625.10M447.77 1618.20L455.73 1622.80M455.73 1618.20L447.77 1622.80" stroke="#303030" stroke-width="1.8"/>
<path d="M404.50 1647.03L404.50 1656.22M400.52 1649.33L408.48 1653.92M408.48 1649.33L400.52 1653.92" stroke="#303030" stroke-width="1.8"/>
<path d="M416.25 1647.03L416.25 1656.22M412.27 1649.33L420.23 1653.92M420.23 1649.33L412.27 1653.92" stroke="#303030" stroke-width="1.8"/>
<path d="M428.00 1647.03L428.00 1656.22M424.02 1649.33L431.98 1653.92M431.98 1649.33L424.02 1653.92" stroke="#303030" stroke-width="1.8"/>
<g transform="translate(26,1825.3) rotate(-90)"><text x="-0.88" y="0" font-size="21.5" font-weight="bold">CFU 10</text><text x="72.6" y="-8.5" font-size="16.5" textLength="7.6" lengthAdjust="spacingAndGlyphs">3</text><text x="81.6" y="0" font-size="21.5" font-weight="bold" textLength="29.8" lengthAdjust="spacingAndGlyphs">/ml</text></g>
<text transform="translate(195.3,1951.5) rotate(-45)" x="0" y="0" font-size="24.1" font-weight="bold" text-anchor="end" stroke="#fff" stroke-width="0.5" paint-order="fill">AB5075</text>
<text transform="translate(437.7,1952.6) rotate(-45)" x="0" y="0" font-size="24.1" font-weight="bold" text-anchor="end" stroke="#fff" stroke-width="0.5" paint-order="fill">AB-4</text>
<line x1="101.25" y1="1662.5" x2="144.5" y2="1662.5" stroke="#0000a8" stroke-width="2.7" stroke-linecap="butt"/>
<line x1="122.5" y1="1638.75" x2="122.5" y2="1685" stroke="#0000a8" stroke-width="2.7" stroke-linecap="butt"/>
<line x1="112.0" y1="1638.75" x2="133.0" y2="1638.75" stroke="#0000a8" stroke-width="2.7" stroke-linecap="butt"/>
<line x1="112.0" y1="1685" x2="133.0" y2="1685" stroke="#0000a8" stroke-width="2.7" stroke-linecap="butt"/>
<circle cx="109.25" cy="1637.5" r="6.1" fill="#0606ee" stroke="#0000b0" stroke-width="0.8"/>
<circle cx="135" cy="1642.5" r="6.1" fill="#0606ee" stroke="#0000b0" stroke-width="0.8"/>
<circle cx="122.5" cy="1648.75" r="6.1" fill="#0606ee" stroke="#0000b0" stroke-width="0.8"/>
<circle cx="122.5" cy="1673.75" r="6.1" fill="#0606ee" stroke="#0000b0" stroke-width="0.8"/>
<circle cx="131.25" cy="1678.75" r="6.1" fill="#0606ee" stroke="#0000b0" stroke-width="0.8"/>
<circle cx="113.75" cy="1693.75" r="6.1" fill="#0606ee" stroke="#0000b0" stroke-width="0.8"/>
<line x1="167" y1="1767.5" x2="210.5" y2="1767.5" stroke="#b01818" stroke-width="2.7" stroke-linecap="butt"/>
<line x1="188.75" y1="1731.75" x2="188.75" y2="1803" stroke="#b01818" stroke-width="2.7" stroke-linecap="butt"/>
<line x1="178.75" y1="1731.75" x2="198.75" y2="1731.75" stroke="#b01818" stroke-width="2.7" stroke-linecap="butt"/>
<line x1="178.75" y1="1803" x2="198.75" y2="1803" stroke="#b01818" stroke-width="2.7" stroke-linecap="butt"/>
<circle cx="179.5" cy="1719.5" r="6.1" fill="#ff0505" stroke="#c00000" stroke-width="0.8"/>
<circle cx="198" cy="1730" r="6.1" fill="#ff0505" stroke="#c00000" stroke-width="0.8"/>
<circle cx="188.75" cy="1771.25" r="6.1" fill="#ff0505" stroke="#c00000" stroke-width="0.8"/>
<circle cx="179.5" cy="1781.25" r="6.1" fill="#ff0505" stroke="#c00000" stroke-width="0.8"/>
<circle cx="198" cy="1792" r="6.1" fill="#ff0505" stroke="#c00000" stroke-width="0.8"/>
<circle cx="188.75" cy="1812" r="6.1" fill="#ff0505" stroke="#c00000" stroke-width="0.8"/>
<line x1="232.3" y1="1884.5" x2="276.8" y2="1884.5" stroke="#109010" stroke-width="2.7" stroke-linecap="butt"/>
<line x1="255" y1="1882" x2="255" y2="1888" stroke="#109010" stroke-width="2.7" stroke-linecap="butt"/>
<line x1="251.0" y1="1882" x2="259.0" y2="1882" stroke="#109010" stroke-width="2.7" stroke-linecap="butt"/>
<line x1="251.0" y1="1888" x2="259.0" y2="1888" stroke="#109010" stroke-width="2.7" stroke-linecap="butt"/>
<circle cx="245.4" cy="1877.4" r="6.1" fill="#08bb08" stroke="#009000" stroke-width="0.8"/>
<circle cx="264" cy="1876.7" r="6.1" fill="#08bb08" stroke="#009000" stroke-width="0.8"/>
<circle cx="251.4" cy="1893.5" r="6.1" fill="#08bb08" stroke="#009000" stroke-width="0.8"/>
<circle cx="252.1" cy="1884.9" r="6.1" fill="#08bb08" stroke="#009000" stroke-width="0.8"/>
<circle cx="261.8" cy="1886.4" r="6.1" fill="#08bb08" stroke="#009000" stroke-width="0.8"/>
<circle cx="243" cy="1886" r="6.1" fill="#08bb08" stroke="#009000" stroke-width="0.8"/>
<line x1="343.75" y1="1733.25" x2="387.5" y2="1733.25" stroke="#0000a8" stroke-width="2.7" stroke-linecap="butt"/>
<line x1="365" y1="1723" x2="365" y2="1743" stroke="#0000a8" stroke-width="2.7" stroke-linecap="butt"/>
<line x1="354.5" y1="1723" x2="375.5" y2="1723" stroke="#0000a8" stroke-width="2.7" stroke-linecap="butt"/>
<line x1="354.5" y1="1743" x2="375.5" y2="1743" stroke="#0000a8" stroke-width="2.7" stroke-linecap="butt"/>
<circle cx="346.25" cy="1718.75" r="6.1" fill="#0606ee" stroke="#0000b0" stroke-width="0.8"/>
<circle cx="384.5" cy="1724.5" r="6.1" fill="#0606ee" stroke="#0000b0" stroke-width="0.8"/>
<circle cx="356.25" cy="1734.5" r="6.1" fill="#0606ee" stroke="#0000b0" stroke-width="0.8"/>
<circle cx="376.25" cy="1729.5" r="6.1" fill="#0606ee" stroke="#0000b0" stroke-width="0.8"/>
<circle cx="360" cy="1745" r="6.1" fill="#0606ee" stroke="#0000b0" stroke-width="0.8"/>
<circle cx="371.25" cy="1745.5" r="6.1" fill="#0606ee" stroke="#0000b0" stroke-width="0.8"/>
<line x1="410" y1="1877" x2="453.75" y2="1877" stroke="#b01818" stroke-width="2.7" stroke-linecap="butt"/>
<line x1="431.75" y1="1858.75" x2="431.75" y2="1895" stroke="#b01818" stroke-width="2.7" stroke-linecap="butt"/>
<line x1="421.25" y1="1858.75" x2="442.25" y2="1858.75" stroke="#b01818" stroke-width="2.7" stroke-linecap="butt"/>
<line x1="421.25" y1="1895" x2="442.25" y2="1895" stroke="#b01818" stroke-width="2.7" stroke-linecap="butt"/>
<circle cx="431.75" cy="1852" r="6.1" fill="#ff0505" stroke="#c00000" stroke-width="0.8"/>
<circle cx="418" cy="1872.5" r="6.1" fill="#ff0505" stroke="#c00000" stroke-width="0.8"/>
<circle cx="431.75" cy="1872.5" r="6.1" fill="#ff0505" stroke="#c00000" stroke-width="0.8"/>
<circle cx="445" cy="1868" r="6.1" fill="#ff0505" stroke="#c00000" stroke-width="0.8"/>
<circle cx="422" cy="1899.5" r="6.1" fill="#ff0505" stroke="#c00000" stroke-width="0.8"/>
<circle cx="441.25" cy="1893.75" r="6.1" fill="#ff0505" stroke="#c00000" stroke-width="0.8"/>
<line x1="476.25" y1="1900" x2="520" y2="1900" stroke="#109010" stroke-width="2.7" stroke-linecap="butt"/>
<line x1="498.75" y1="1886.25" x2="498.75" y2="1906" stroke="#109010" stroke-width="2.7" stroke-linecap="butt"/>
<line x1="488.25" y1="1886.25" x2="509.25" y2="1886.25" stroke="#109010" stroke-width="2.7" stroke-linecap="butt"/>
<line x1="488.25" y1="1906" x2="509.25" y2="1906" stroke="#109010" stroke-width="2.7" stroke-linecap="butt"/>
<circle cx="489.25" cy="1877.5" r="6.1" fill="#08bb08" stroke="#009000" stroke-width="0.8"/>
<circle cx="517.5" cy="1893.75" r="6.1" fill="#08bb08" stroke="#009000" stroke-width="0.8"/>
<circle cx="507.5" cy="1898.75" r="6.1" fill="#08bb08" stroke="#009000" stroke-width="0.8"/>
<circle cx="487.5" cy="1903.75" r="6.1" fill="#08bb08" stroke="#009000" stroke-width="0.8"/>
<circle cx="498.75" cy="1907.5" r="6.1" fill="#08bb08" stroke="#009000" stroke-width="0.8"/>
<circle cx="492.5" cy="1913.75" r="6.1" fill="#08bb08" stroke="#009000" stroke-width="0.8"/>
<circle cx="610.3" cy="1637.8" r="7" fill="#0606ee"/>
<circle cx="610.3" cy="1694.8" r="7" fill="#ff0505"/>
<circle cx="610.3" cy="1744.8" r="7" fill="#08bb08"/>
<text x="645.3" y="1645.65" font-size="25.5" fill="#111">Un treated</text>
<text x="645.3" y="1687.7" font-size="25.5" fill="#111">Treated with <tspan font-style="italic">S. lappa</tspan></text>
<text x="645.3" y="1717" font-size="25.5" fill="#111">extract</text>
<text x="645.3" y="1751.9" font-size="25.5" fill="#111">Treated with tetracycline</text>
</svg></body></html>
